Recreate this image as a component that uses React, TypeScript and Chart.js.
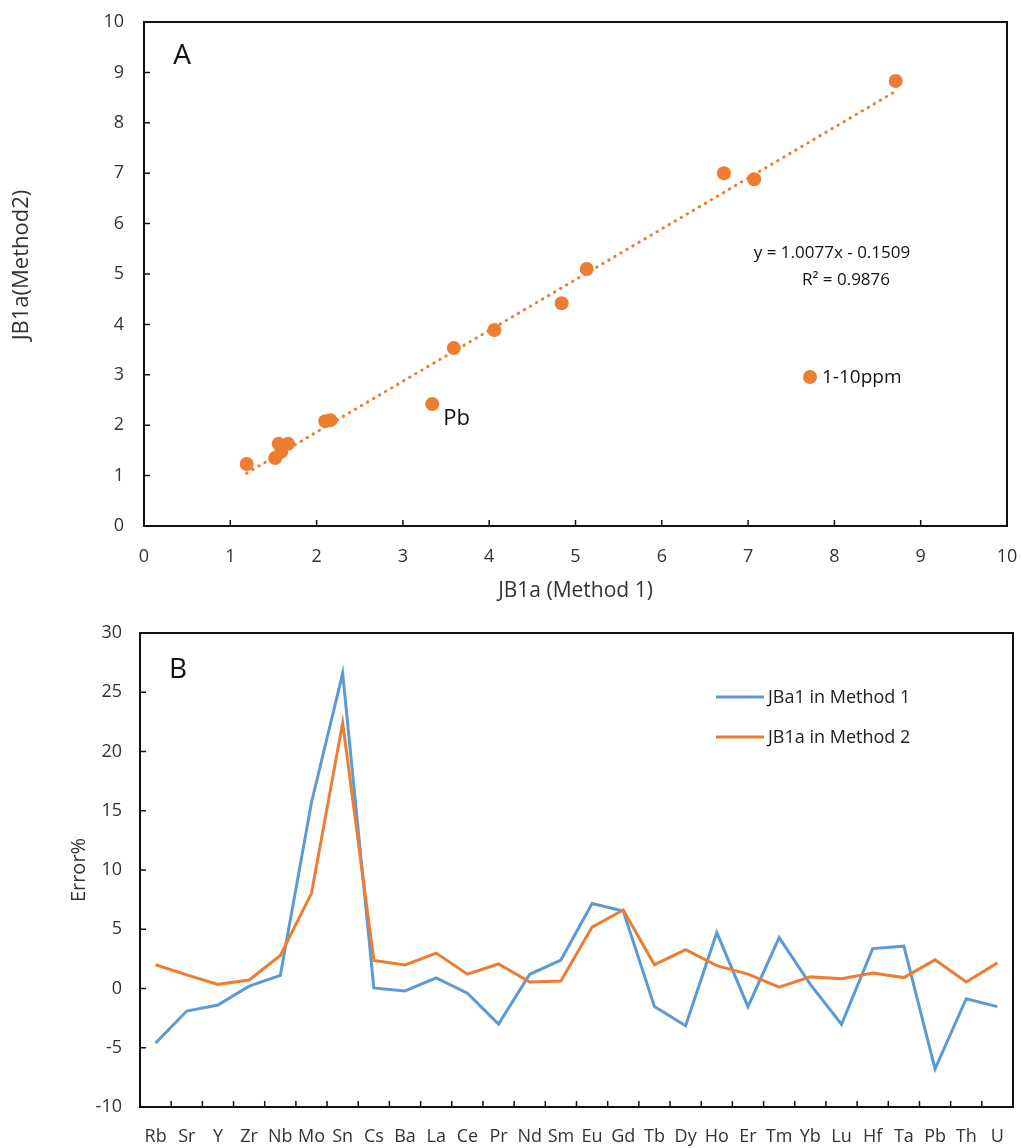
import React, { useEffect, useRef } from "react";
import { Chart, registerables } from "chart.js";

Chart.register(...registerables);

// ---------- Panel A data ----------
const method1Values = [1.19, 1.52, 1.56, 1.59, 1.67, 2.1, 2.16, 3.34, 3.59, 4.06, 4.84, 5.13, 6.72, 7.07, 8.71];
const method2Values = [1.23, 1.35, 1.63, 1.47, 1.63, 2.08, 2.1, 2.42, 3.53, 3.89, 4.42, 5.1, 7.0, 6.88, 8.83];
const pbIndex = 7;
const trendSlope = 1.0077;
const trendIntercept = -0.1509;
const trendR2 = 0.9876;
const axisTicksA = [0, 1, 2, 3, 4, 5, 6, 7, 8, 9, 10];
const seriesLabelA = "1-10ppm";
const xTitleA = "JB1a (Method 1)";
const yTitleA = "JB1a(Method2)";

// ---------- Panel B data ----------
const elements = ["Rb", "Sr", "Y", "Zr", "Nb", "Mo", "Sn", "Cs", "Ba", "La", "Ce", "Pr", "Nd", "Sm", "Eu", "Gd", "Tb", "Dy", "Ho", "Er", "Tm", "Yb", "Lu", "Hf", "Ta", "Pb", "Th", "U"];
const errorMethod1 = [-4.6, -1.9, -1.4, 0.2, 1.1, 15.7, 26.6, 0.05, -0.2, 0.9, -0.4, -3.0, 1.2, 2.4, 7.17, 6.53, -1.53, -3.14, 4.72, -1.53, 4.29, 0.35, -3.02, 3.37, 3.57, -6.79, -0.86, -1.53];
const errorMethod2 = [2.0, 1.15, 0.35, 0.72, 2.79, 8.03, 22.42, 2.36, 1.99, 2.99, 1.21, 2.07, 0.55, 0.63, 5.18, 6.62, 2.01, 3.28, 1.93, 1.21, 0.12, 0.98, 0.83, 1.3, 0.92, 2.42, 0.55, 2.16];
const seriesNamesB = ["JBa1 in Method 1", "JB1a in Method 2"];
const axisTicksB = [-10, -5, 0, 5, 10, 15, 20, 25, 30];

const FONT = "'Open Sans', 'Noto Sans', sans-serif";
const ORANGE = "#ED7D31";
const BLUE = "#5B9BD5";
const TEXT = "#333333";

function hiddenGrid(len: number) {
  return {
    display: true,
    drawOnChartArea: false,
    drawTicks: true,
    tickLength: len,
    tickColor: "rgba(0,0,0,0)",
    color: "rgba(0,0,0,0)",
  };
}

function drawFrame(chart: any, xPixels: number[], yPixels: number[]) {
  const { ctx, chartArea: a } = chart;
  ctx.save();
  ctx.strokeStyle = "#111";
  ctx.lineWidth = 1.5;
  const tl = 6;
  ctx.beginPath();
  xPixels.forEach((px) => {
    ctx.moveTo(px, a.bottom);
    ctx.lineTo(px, a.bottom - tl);
  });
  yPixels.forEach((py) => {
    ctx.moveTo(a.left, py);
    ctx.lineTo(a.left + tl, py);
  });
  ctx.stroke();
  ctx.lineWidth = 2;
  ctx.strokeRect(a.left, a.top, a.right - a.left, a.bottom - a.top);
  ctx.restore();
}

const panelAPlugin = {
  id: "panelA",
  afterDraw(chart: any) {
    const { ctx, chartArea: a, scales } = chart;
    const xs = axisTicksA.slice(1, -1).map((v) => scales.x.getPixelForValue(v));
    const ys = axisTicksA.slice(1, -1).map((v) => scales.y.getPixelForValue(v));
    drawFrame(chart, xs, ys);
    ctx.save();
    // y-axis title
    ctx.fillStyle = TEXT;
    ctx.textBaseline = "middle";
    ctx.textAlign = "center";
    ctx.font = `22px ${FONT}`;
    ctx.save();
    ctx.translate(a.left - 122, a.top + 243);
    ctx.rotate(-Math.PI / 2);
    ctx.fillText(yTitleA, 0, 0);
    ctx.restore();
    ctx.fillStyle = "#111";
    ctx.font = `28px ${FONT}`;
    ctx.fillText("A", a.left + 38, a.top + 34);
    // Pb label
    const px = scales.x.getPixelForValue(method1Values[pbIndex]);
    const py = scales.y.getPixelForValue(method2Values[pbIndex]);
    ctx.textAlign = "left";
    ctx.font = `22px ${FONT}`;
    ctx.fillText("Pb", px + 11, py + 15);
    // equation
    ctx.textAlign = "center";
    ctx.font = `17px ${FONT}`;
    const sign = trendIntercept < 0 ? "-" : "+";
    ctx.fillText(`y = ${trendSlope.toFixed(4)}x ${sign} ${Math.abs(trendIntercept).toFixed(4)}`, a.left + 688, a.top + 231);
    ctx.fillText(`R² = ${trendR2.toFixed(4)}`, a.left + 702, a.top + 258);
    // legend
    const lx = a.left + 666;
    const ly = a.top + 355;
    ctx.fillStyle = ORANGE;
    ctx.beginPath();
    ctx.arc(lx, ly, 7, 0, Math.PI * 2);
    ctx.fill();
    ctx.fillStyle = "#111";
    ctx.textAlign = "left";
    ctx.font = `19px ${FONT}`;
    ctx.fillText(seriesLabelA, lx + 12, ly + 1);
    ctx.restore();
  },
};

const panelBPlugin = {
  id: "panelB",
  afterDraw(chart: any) {
    const { ctx, chartArea: a, scales } = chart;
    const xs: number[] = [];
    for (let i = 0; i < elements.length - 1; i++) {
      xs.push((scales.x.getPixelForValue(i) + scales.x.getPixelForValue(i + 1)) / 2);
    }
    const ys = axisTicksB.slice(1, -1).map((v) => scales.y.getPixelForValue(v));
    drawFrame(chart, xs, ys);
    ctx.save();
    ctx.fillStyle = "#111";
    ctx.textBaseline = "middle";
    ctx.textAlign = "center";
    ctx.font = `28px ${FONT}`;
    ctx.fillText("B", a.left + 38, a.top + 37);
    // legend
    const colors = [BLUE, ORANGE];
    seriesNamesB.forEach((name, i) => {
      const y = a.top + 64 + i * 40;
      ctx.strokeStyle = colors[i];
      ctx.lineWidth = 3;
      ctx.beginPath();
      ctx.moveTo(a.left + 576, y);
      ctx.lineTo(a.left + 624, y);
      ctx.stroke();
      ctx.fillStyle = "#222";
      ctx.textAlign = "left";
      ctx.font = `18px ${FONT}`;
      ctx.fillText(name, a.left + 628, y + 1);
    });
    ctx.restore();
  },
};

export default function App() {
  const topRef = useRef<HTMLCanvasElement | null>(null);
  const botRef = useRef<HTMLCanvasElement | null>(null);

  useEffect(() => {
    const xMin = Math.min(...method1Values);
    const xMax = Math.max(...method1Values);
    const trendData = [
      { x: xMin, y: trendSlope * xMin + trendIntercept },
      { x: xMax, y: trendSlope * xMax + trendIntercept },
    ];
    const points = method1Values.map((x, i) => ({ x, y: method2Values[i] }));

    const top = new Chart(topRef.current as HTMLCanvasElement, {
      type: "scatter",
      data: {
        datasets: [
          {
            label: seriesLabelA,
            data: points,
            backgroundColor: ORANGE,
            borderWidth: 0,
            pointRadius: 7,
            order: 0,
          },
          {
            label: "trend",
            data: trendData,
            showLine: true,
            borderColor: ORANGE,
            borderWidth: 3,
            borderDash: [0.5, 6.5],
            borderCapStyle: "round",
            pointRadius: 0,
            order: 1,
          } as any,
        ],
      },
      options: {
        animation: false,
        responsive: false,
        devicePixelRatio: 1,
        layout: { padding: { left: 0, right: 15, top: 22, bottom: 0 } },
        plugins: { legend: { display: false }, tooltip: { enabled: false } },
        scales: {
          x: {
            type: "linear",
            min: 0,
            max: 10,
            afterBuildTicks: (s: any) => {
              s.ticks = axisTicksA.map((v) => ({ value: v }));
            },
            afterFit: (s: any) => {
              s.height = 84;
            },
            grid: hiddenGrid(18),
            border: { display: false },
            ticks: { font: { family: FONT, size: 18 }, color: TEXT, padding: 2, maxRotation: 0 },
            title: {
              display: true,
              text: xTitleA,
              font: { family: FONT, size: 21 },
              color: TEXT,
              padding: { top: 0, bottom: 6 },
            },
          },
          y: {
            type: "linear",
            min: 0,
            max: 10,
            afterBuildTicks: (s: any) => {
              s.ticks = axisTicksA.map((v) => ({ value: v }));
            },
            afterFit: (s: any) => {
              s.width = 144;
            },
            grid: hiddenGrid(18),
            border: { display: false },
            ticks: { font: { family: FONT, size: 18 }, color: TEXT, padding: 2 },
            title: { display: false },
          },
        },
      } as any,
      plugins: [panelAPlugin],
    });

    const bot = new Chart(botRef.current as HTMLCanvasElement, {
      type: "line",
      data: {
        labels: elements,
        datasets: [
          {
            label: seriesNamesB[0],
            data: errorMethod1,
            borderColor: BLUE,
            backgroundColor: BLUE,
            borderWidth: 3,
            pointRadius: 0,
            tension: 0,
            order: 1,
          },
          {
            label: seriesNamesB[1],
            data: errorMethod2,
            borderColor: ORANGE,
            backgroundColor: ORANGE,
            borderWidth: 3,
            pointRadius: 0,
            tension: 0,
            order: 0,
          },
        ],
      },
      options: {
        animation: false,
        responsive: false,
        devicePixelRatio: 1,
        layout: { padding: { left: 0, right: 9, top: 23, bottom: 0 } },
        plugins: { legend: { display: false }, tooltip: { enabled: false } },
        scales: {
          x: {
            type: "category",
            offset: true,
            afterFit: (s: any) => {
              s.height = 41;
            },
            grid: { ...hiddenGrid(17), offset: false },
            border: { display: false },
            ticks: { font: { family: FONT, size: 18 }, color: TEXT, padding: 2, maxRotation: 0, autoSkip: false },
          },
          y: {
            type: "linear",
            min: -10,
            max: 30,
            afterBuildTicks: (s: any) => {
              s.ticks = axisTicksB.map((v) => ({ value: v }));
            },
            afterFit: (s: any) => {
              s.width = 140;
            },
            grid: hiddenGrid(16),
            border: { display: false },
            ticks: { font: { family: FONT, size: 18 }, color: TEXT, padding: 2 },
            title: {
              display: true,
              text: "Error%",
              font: { family: FONT, size: 20 },
              color: TEXT,
              padding: { top: 67, bottom: 0 },
            },
          },
        },
      } as any,
      plugins: [panelBPlugin],
    });

    return () => {
      top.destroy();
      bot.destroy();
    };
  }, []);

  return (
    <div style={{ position: "absolute", left: 0, top: 0, width: 1022, height: 1148, background: "#fff" }}>
      <canvas ref={topRef} width={1022} height={610} style={{ position: "absolute", left: 0, top: 0, width: 1022, height: 610 }} />
      <canvas ref={botRef} width={1022} height={538} style={{ position: "absolute", left: 0, top: 610, width: 1022, height: 538 }} />
    </div>
  );
}
